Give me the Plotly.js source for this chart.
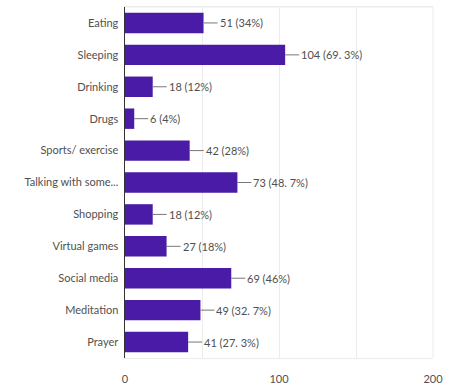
<!DOCTYPE html>
<html>
<head>
<meta charset="utf-8">
<script src="https://cdn.plot.ly/plotly-3.0.1.min.js"></script>
<style>
  html, body { margin: 0; padding: 0; background: #ffffff; }
  #chart { width: 451px; height: 388px; }
</style>
</head>
<body>
<div id="chart"></div>
<script>
// Activities and response counts
const categories = ["Eating", "Sleeping", "Drinking", "Drugs", "Sports/ exercise",
  "Talking with some...", "Shopping", "Virtual games", "Social media", "Meditation", "Prayer"];
const counts = [51, 104, 18, 6, 42, 73, 18, 27, 69, 49, 41];
const percents = ["34%", "69. 3%", "12%", "4%", "28%", "48. 7%", "12%", "18%", "46%", "32. 7%", "27. 3%"];
const xTicks = [0, 100, 200];

const barColor = "#4a1ba6";
const textColor = "#505050";

const trace = {
  type: "bar",
  orientation: "h",
  x: counts,
  y: categories,
  marker: { color: barColor },
  hoverinfo: "none"
};

// Value labels joined to each bar end by a short connector line
const annotations = counts.map((v, i) => ({
  x: v,
  y: categories[i],
  xref: "x",
  yref: "y",
  text: v + " (" + percents[i] + ")",
  showarrow: true,
  arrowhead: 0,
  arrowwidth: 1,
  arrowcolor: "#777777",
  ax: 14,
  ay: 0,
  xanchor: "left",
  standoff: 0,
  startstandoff: 0,
  font: { family: "Lato, 'Open Sans', sans-serif", size: 11, color: textColor }
}));

const layout = {
  width: 451,
  height: 388,
  margin: { l: 125, r: 18, t: 7, b: 30 },
  paper_bgcolor: "#ffffff",
  plot_bgcolor: "#ffffff",
  bargap: 0.36,
  showlegend: false,
  font: { family: "Lato, 'Open Sans', sans-serif", size: 11, color: textColor },
  xaxis: {
    range: [0, 200],
    tickvals: xTicks,
    ticktext: xTicks.map(String),
    showgrid: true,
    gridcolor: "#ececec",
    gridwidth: 1,
    minor: { dtick: 50, showgrid: true, gridcolor: "#ececec" },
    zeroline: false,
    showline: true,
    linecolor: "#ececec",
    mirror: true,
    ticks: "outside",
    ticklen: 11,
    tickcolor: "rgba(0,0,0,0)",
    tickfont: { size: 11, color: textColor },
    fixedrange: true
  },
  yaxis: {
    autorange: "reversed",
    showline: true,
    linecolor: "#333333",
    linewidth: 1.5,
    showgrid: false,
    ticks: "outside",
    ticklen: 3,
    tickcolor: "rgba(0,0,0,0)",
    tickfont: { size: 11, color: textColor },
    fixedrange: true
  },
  shapes: [{
    type: "line", xref: "paper", yref: "paper",
    x0: 0, x1: 1, y0: 1, y1: 1,
    line: { color: "#ececec", width: 1 }
  }, {
    type: "line", xref: "paper", yref: "paper",
    x0: 1, x1: 1, y0: 0, y1: 1,
    line: { color: "#ececec", width: 1 }
  }],
  annotations: annotations
};

Plotly.newPlot("chart", [trace], layout, { displayModeBar: false, staticPlot: true });
</script>
</body>
</html>
